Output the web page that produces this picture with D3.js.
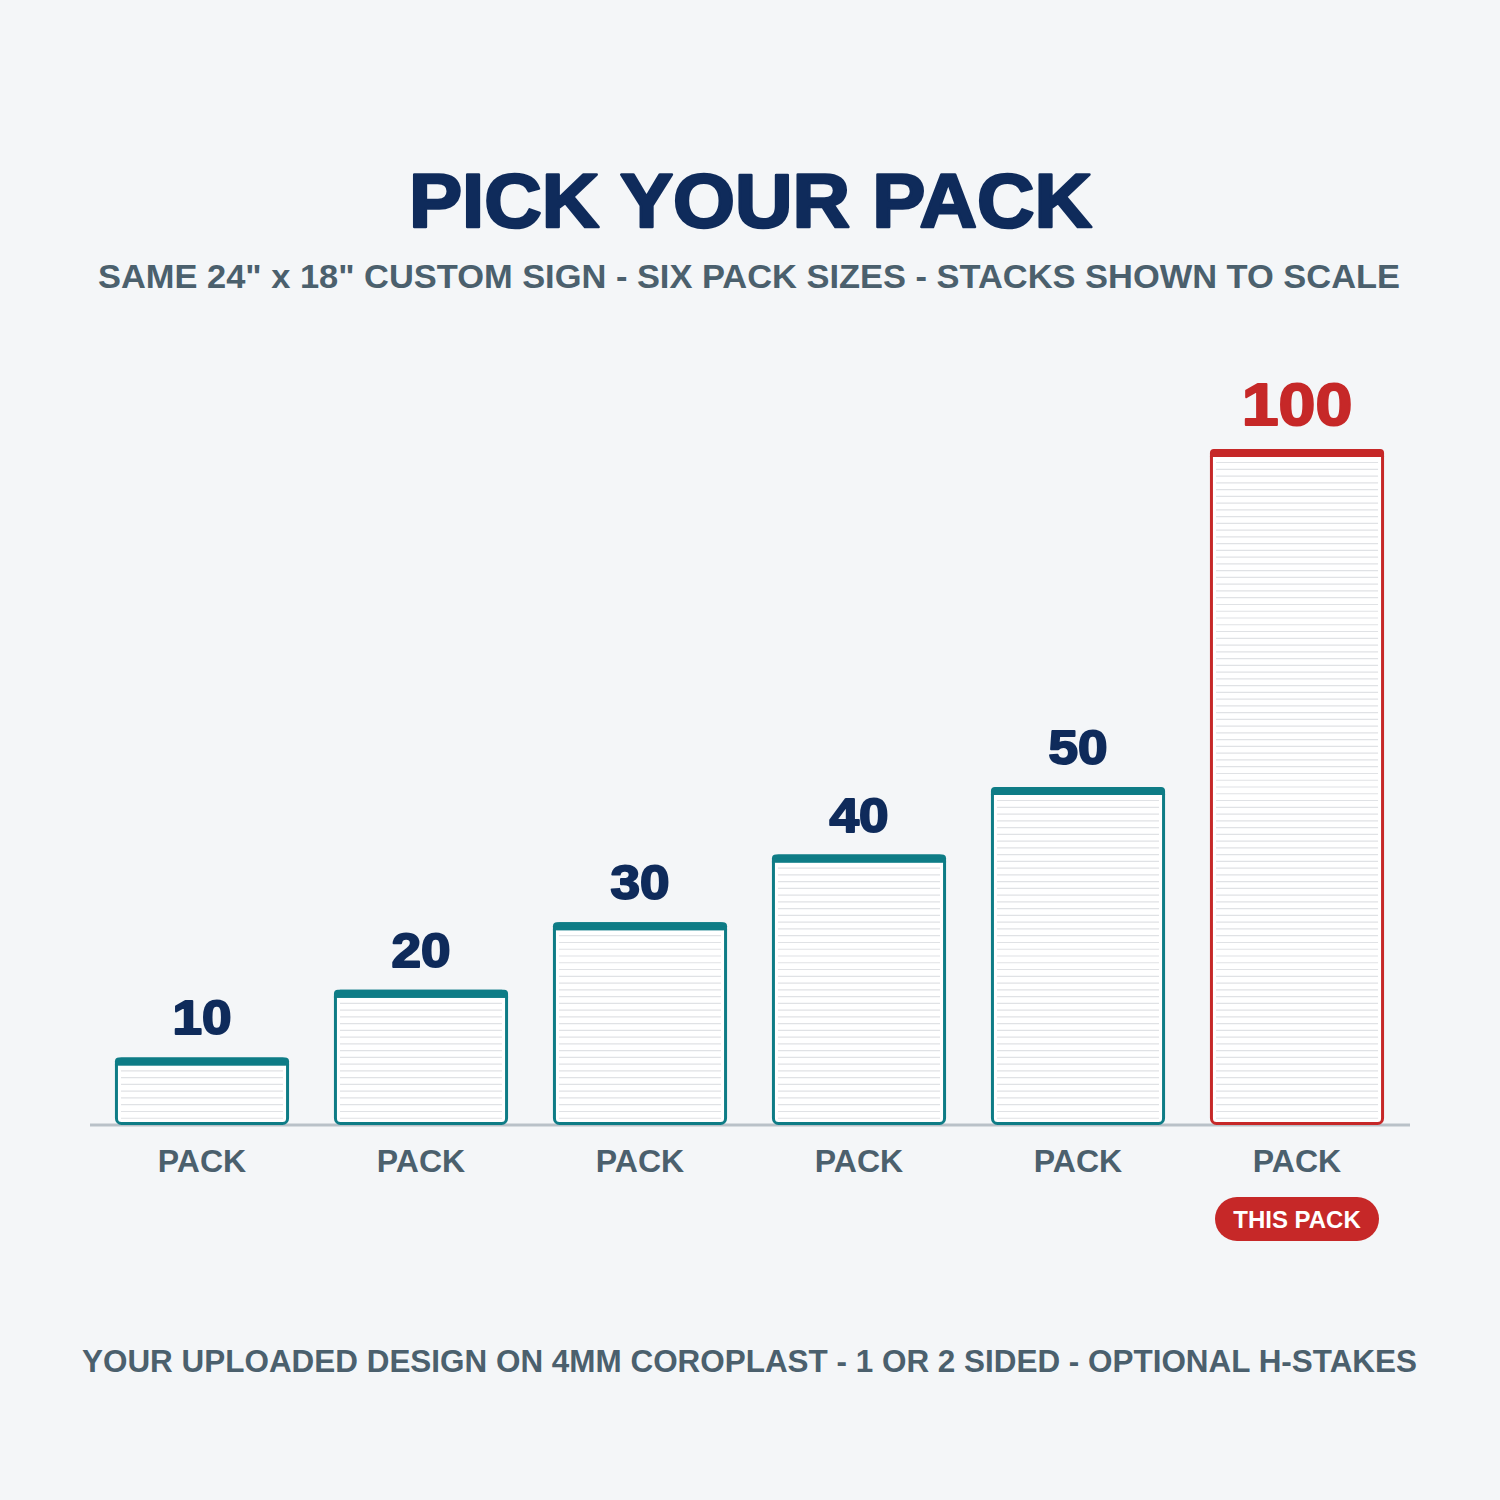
<!DOCTYPE html>
<html>
<head>
<meta charset="utf-8">
<script src="https://cdn.jsdelivr.net/npm/d3@7"></script>
<style>
  html, body { margin: 0; padding: 0; background: #f4f6f8; }
  svg { display: block; }
</style>
</head>
<body>
<svg id="chart" width="1500" height="1500"></svg>
<script>
// ---- data ----
const categories = ["10", "20", "30", "40", "50", "100"];
const packSizes = [10, 20, 30, 40, 50, 100];
const categoryLabels = ["PACK", "PACK", "PACK", "PACK", "PACK", "PACK"];
const highlighted = ["100"];
const title = "PICK YOUR PACK";
const subtitle = "SAME 24\" x 18\" CUSTOM SIGN - SIX PACK SIZES - STACKS SHOWN TO SCALE";
const footer = "YOUR UPLOADED DESIGN ON 4MM COROPLAST - 1 OR 2 SIDED - OPTIONAL H-STAKES";
const badgeText = "THIS PACK";

// ---- styles ----
const BG = "#f4f6f8";
const NAVY = "#0f2b5b";
const SLATE = "#4b606d";
const TEAL = "#0e7c86";
const RED = "#c62828";
const LINE = "#e0e2e5";
const FONT = "'Liberation Sans', Arial, Helvetica, sans-serif";

const svg = d3.select("#chart");
svg.append("rect").attr("width", 1500).attr("height", 1500).attr("fill", BG);

const x = d3.scaleBand().domain(categories).range([92.5, 1406.5]).paddingInner(0.205).paddingOuter(0.1025);
const y = d3.scaleLinear().domain([0, 100]).range([1125, 449]);

// title
svg.append("text").attr("x", 750.5).attr("y", 227).attr("text-anchor", "middle")
  .attr("font-family", FONT).attr("font-weight", "bold").attr("font-size", 76)
  .attr("fill", NAVY).attr("stroke", NAVY).attr("stroke-width", 2.6).attr("stroke-linejoin", "round")
  .attr("textLength", 683).attr("lengthAdjust", "spacingAndGlyphs")
  .text(title);

svg.append("text").attr("x", 749).attr("y", 288).attr("text-anchor", "middle")
  .attr("font-family", FONT).attr("font-weight", "bold").attr("font-size", 34)
  .attr("fill", SLATE).attr("textLength", 1302).attr("lengthAdjust", "spacingAndGlyphs")
  .text(subtitle);

// baseline
svg.append("line").attr("x1", 90).attr("x2", 1410).attr("y1", y(0)).attr("y2", y(0))
  .attr("stroke", "#b9c1c8").attr("stroke-width", 3);

const data = categories.map((c, i) => ({ cat: c, value: packSizes[i], label: categoryLabels[i], hi: highlighted.includes(c) }));

const g = svg.append("g");
const bars = g.selectAll("g.bar").data(data).join("g").attr("class", "bar");

const sw = 3;
bars.append("rect")
  .attr("x", d => x(d.cat) + sw / 2)
  .attr("y", d => y(d.value) + sw / 2)
  .attr("width", x.bandwidth() - sw)
  .attr("height", d => y(0) - y(d.value) - sw)
  .attr("rx", 5)
  .attr("fill", "#ffffff");

// sheet lines (one per sign)
bars.each(function (d) {
  const sel = d3.select(this);
  const ks = d3.range(1, d.value);
  sel.selectAll("line.sheet").data(ks).join("line").attr("class", "sheet")
    .attr("x1", x(d.cat) + 6).attr("x2", x(d.cat) + x.bandwidth() - 6)
    .attr("y1", k => y(k)).attr("y2", k => y(k))
    .attr("stroke", LINE).attr("stroke-width", 1.2);
});

bars.append("rect")
  .attr("x", d => x(d.cat) + sw / 2)
  .attr("y", d => y(d.value) + sw / 2)
  .attr("width", x.bandwidth() - sw)
  .attr("height", d => y(0) - y(d.value) - sw)
  .attr("rx", 5)
  .attr("fill", "none")
  .attr("stroke", d => d.hi ? RED : TEAL)
  .attr("stroke-width", sw);

// top cap
bars.append("rect")
  .attr("x", d => x(d.cat))
  .attr("y", d => y(d.value))
  .attr("width", x.bandwidth())
  .attr("height", 8)
  .attr("rx", 4)
  .attr("fill", d => d.hi ? RED : TEAL);
bars.append("rect")
  .attr("x", d => x(d.cat))
  .attr("y", d => y(d.value) + 4)
  .attr("width", x.bandwidth())
  .attr("height", 4)
  .attr("fill", d => d.hi ? RED : TEAL);

// value labels
bars.append("text")
  .attr("x", d => x(d.cat) + x.bandwidth() / 2)
  .attr("y", d => y(d.value) - (d.hi ? 24 : 23))
  .attr("text-anchor", "middle")
  .attr("font-family", FONT).attr("font-weight", "bold")
  .attr("font-size", d => d.hi ? 60 : 48)
  .attr("textLength", d => d.cat.length * 0.615 * (d.hi ? 60 : 48))
  .attr("lengthAdjust", "spacingAndGlyphs")
  .attr("fill", d => d.hi ? RED : NAVY)
  .attr("stroke", d => d.hi ? RED : NAVY).attr("stroke-width", 2).attr("stroke-linejoin", "round")
  .text(d => d.cat);

// category labels
bars.append("text")
  .attr("x", d => x(d.cat) + x.bandwidth() / 2)
  .attr("y", 1172)
  .attr("text-anchor", "middle")
  .attr("font-family", FONT).attr("font-weight", "bold").attr("font-size", 32)
  .attr("fill", SLATE)
  .text(d => d.label);

// badge
const hiCat = highlighted[0];
const bw = 164, bh = 44;
const bx = x(hiCat) + x.bandwidth() / 2;
svg.append("rect").attr("x", bx - bw / 2).attr("y", 1197).attr("width", bw).attr("height", bh)
  .attr("rx", bh / 2).attr("fill", RED);
svg.append("text").attr("x", bx).attr("y", 1228).attr("text-anchor", "middle")
  .attr("font-family", FONT).attr("font-weight", "bold").attr("font-size", 24)
  .attr("fill", "#ffffff").text(badgeText);

// footer
svg.append("text").attr("x", 749.5).attr("y", 1372).attr("text-anchor", "middle")
  .attr("font-family", FONT).attr("font-weight", "bold").attr("font-size", 31)
  .attr("fill", SLATE).attr("textLength", 1335).attr("lengthAdjust", "spacingAndGlyphs")
  .text(footer);
</script>
</body>
</html>
